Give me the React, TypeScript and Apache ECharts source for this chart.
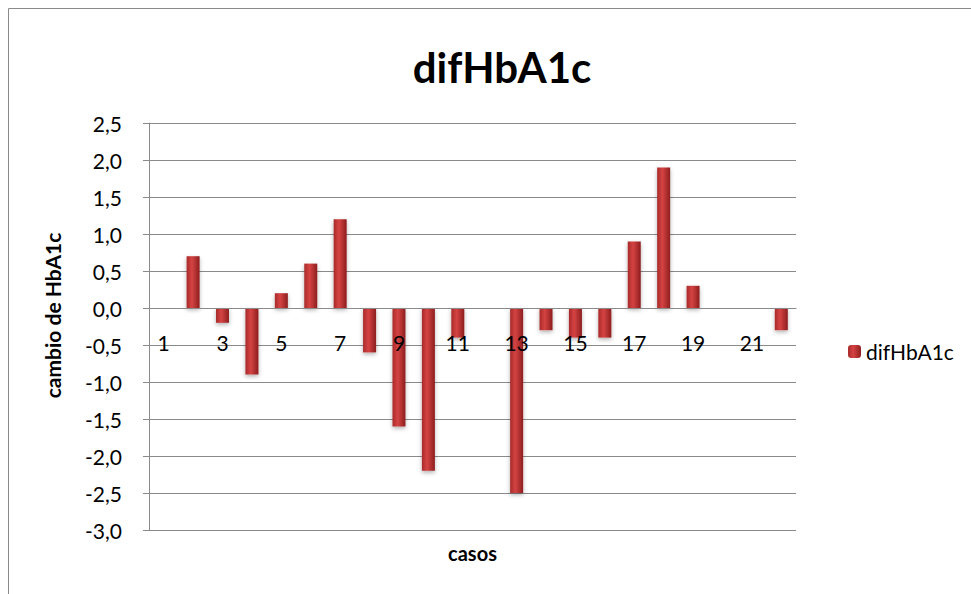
import React, { useEffect, useRef } from "react";
import * as echarts from "echarts";

const categories = ["1","2","3","4","5","6","7","8","9","10","11","12","13","14","15","16","17","18","19","20","21","22"];
const values = [0, 0.7, -0.2, -0.9, 0.2, 0.6, 1.2, -0.6, -1.6, -2.2, -0.4, 0, -2.5, -0.3, -0.4, -0.4, 0.9, 1.9, 0.3, 0, 0, -0.3];
const seriesName = "difHbA1c";
const titleText = "difHbA1c";
const yName = "cambio de HbA1c";
const xName = "casos";

const FONT = "Lato, 'Open Sans', sans-serif";

export default function App() {
  const ref = useRef<HTMLDivElement>(null);
  useEffect(() => {
    if (!ref.current) return;
    const chart = echarts.init(ref.current, undefined, { renderer: "svg" });
    const barColor = new echarts.graphic.LinearGradient(0, 0, 1, 0, [
      { offset: 0, color: "#a82a2a" },
      { offset: 0.4, color: "#d54343" },
      { offset: 1, color: "#8e1e1e" },
    ]);
    chart.setOption({
      animation: false,
      backgroundColor: "#ffffff",
      textStyle: { fontFamily: FONT },
      title: {
        text: titleText,
        left: 497,
        top: 41,
        textAlign: "center",
        textStyle: { fontSize: 42, fontWeight: "bold", color: "#000", fontFamily: FONT },
      },
      graphic: [
        {
          type: "rect",
          shape: { x: 8.5, y: 8.5, width: 1000, height: 1000 },
          style: { fill: "none", stroke: "#8a8a8a", lineWidth: 1 },
          silent: true,
        },
      ],
      legend: {
        left: 843,
        top: 336,
        itemWidth: 13,
        itemHeight: 13,
        itemGap: 5,
        textStyle: { fontSize: 21, color: "#000", fontFamily: FONT },
        data: [seriesName],
      },
      grid: { left: 149, right: 175, top: 123, bottom: 64, outerBoundsMode: "none", containLabel: false },
      xAxis: [
        {
          type: "category",
          data: categories,
          position: "bottom",
          offset: -222,
          z: 5,
          axisLine: { onZero: false, lineStyle: { color: "#8a8a8a" } },
          axisTick: { show: false },
          axisLabel: { interval: 1, fontSize: 21, color: "#000", margin: 24, fontFamily: FONT, hideOverlap: false },
        },
        {
          type: "category",
          data: categories,
          position: "bottom",
          name: xName,
          nameLocation: "middle",
          nameGap: 13,
          nameTextStyle: { fontSize: 20, fontWeight: "bold", color: "#000", fontFamily: FONT },
          axisLine: { show: false, onZero: false },
          axisTick: { show: false },
          axisLabel: { show: false },
          splitLine: { show: false },
        },
      ],
      yAxis: {
        type: "value",
        min: -3,
        max: 2.5,
        interval: 0.5,
        name: yName,
        nameLocation: "middle",
        nameGap: 86,
        nameRotate: 90,
        nameTextStyle: { fontSize: 21, fontWeight: "bold", color: "#000", fontFamily: FONT, padding: [0, 0, 0, 22] },
        axisLine: { show: true, lineStyle: { color: "#8a8a8a" } },
        axisTick: { show: true, length: 6, lineStyle: { color: "#8a8a8a" } },
        axisLabel: {
          fontSize: 21,
          color: "#000",
          margin: 27,
          fontFamily: FONT,
          hideOverlap: false,
          formatter: (v: number) => v.toFixed(1).replace(".", ","),
        },
        splitLine: { show: true, lineStyle: { color: "#8a8a8a", width: 1 } },
      },
      series: [
        {
          name: seriesName,
          type: "bar",
          data: values,
          barWidth: 13,
          itemStyle: {
            color: barColor,
            shadowBlur: 4,
            shadowColor: "rgba(0,0,0,0.3)",
            shadowOffsetY: 2,
          },
        },
      ],
    });
    return () => chart.dispose();
  }, []);
  return (
    <div style={{ position: "fixed", left: 0, top: 0, width: 971, height: 594 }}>
      <div ref={ref} style={{ width: 971, height: 594 }} />
    </div>
  );
}
